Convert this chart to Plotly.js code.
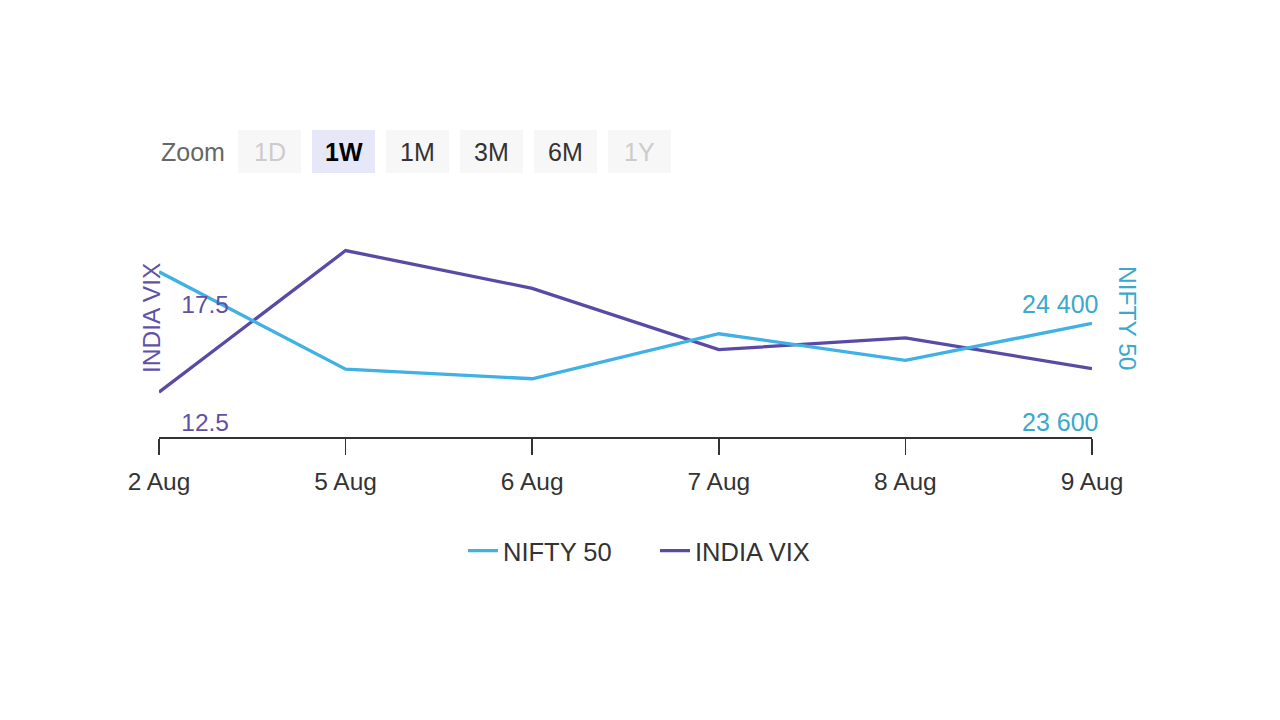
<!DOCTYPE html>
<html>
<head>
<meta charset="utf-8">
<script src="https://cdn.plot.ly/plotly-3.0.1.min.js"></script>
<style>html,body{margin:0;padding:0;background:#fff;}#chart{width:1280px;height:720px;}</style>
</head>
<body>
<div id="chart"></div>
<script>
const categories = ['2 Aug', '5 Aug', '6 Aug', '7 Aug', '8 Aug', '9 Aug'];
const nifty = [24720, 24060, 23995, 24300, 24120, 24370];
const vix = [14.4, 20.4, 18.8, 16.2, 16.7, 15.4];
const vixTicks = [12.5, 17.5];
const vixTickText = ['12.5', '17.5'];
const niftyTicks = [23600, 24400];
const niftyTickText = ['23 600', '24 400'];
const zoomButtons = ['1D', '1W', '1M', '3M', '6M', '1Y'];
const zoomState = ['disabled', 'active', 'normal', 'normal', 'normal', 'disabled'];

const FONT = 'Liberation Sans, Arial, sans-serif';
const NIFTY_COLOR = '#3fb1e5';
const VIX_COLOR = '#5a4aa6';
const NIFTY_LABEL = '#3aa9cc';
const VIX_LABEL = '#5f52a6';

// plot geometry in pixels
const L = 159, R = 1092, T = 201, B = 437;
const px2x = p => (p - L) / (R - L);
const py2y = p => (B - p) / (B - T);

const traces = [
  {x: categories, y: nifty, name: 'NIFTY 50', yaxis: 'y2', type: 'scatter', mode: 'lines',
   line: {color: NIFTY_COLOR, width: 3.3}},
  {x: categories, y: vix, name: 'INDIA VIX', yaxis: 'y', type: 'scatter', mode: 'lines',
   line: {color: VIX_COLOR, width: 3.3}}
];

const shapes = [];
const annotations = [];
zoomButtons.forEach((b, i) => {
  const x0 = 238 + i * 74, x1 = x0 + 63;
  const st = zoomState[i];
  shapes.push({type: 'rect', xref: 'paper', yref: 'paper', layer: 'below',
    x0: px2x(x0), x1: px2x(x1), y0: py2y(173), y1: py2y(130),
    fillcolor: st === 'active' ? '#e6e8f8' : '#f7f7f8', line: {width: 0}});
  annotations.push({xref: 'paper', yref: 'paper', x: px2x((x0 + x1) / 2), y: py2y(152),
    text: st === 'active' ? '<b>' + b + '</b>' : b, showarrow: false, xanchor: 'center', yanchor: 'middle',
    font: {family: FONT, size: 25, color: st === 'disabled' ? '#cccccc' : (st === 'active' ? '#000000' : '#333333')}});
});
annotations.push({xref: 'paper', yref: 'paper', x: px2x(159), y: py2y(152), text: 'Zoom',
  showarrow: false, xanchor: 'left', yanchor: 'middle', font: {family: FONT, size: 25, color: '#666666'}});
annotations.push({xref: 'paper', yref: 'paper', x: px2x(151), y: py2y(318), text: 'INDIA VIX',
  textangle: -90, showarrow: false, xanchor: 'center', yanchor: 'middle',
  font: {family: FONT, size: 24.5, color: VIX_LABEL}});
annotations.push({xref: 'paper', yref: 'paper', x: px2x(1128), y: py2y(318), text: 'NIFTY 50',
  textangle: 90, showarrow: false, xanchor: 'center', yanchor: 'middle',
  font: {family: FONT, size: 24.5, color: NIFTY_LABEL}});

const layout = {
  width: 1280, height: 720,
  paper_bgcolor: '#ffffff', plot_bgcolor: '#ffffff',
  margin: {l: L, r: 1280 - R, t: T, b: 720 - B},
  font: {family: FONT, size: 24.5, color: '#333333'},
  showlegend: true,
  legend: {orientation: 'h', xref: 'container', yref: 'container', x: 0.5 + 15 / 1280, xanchor: 'center',
    y: 1 - 551 / 720, yanchor: 'middle', font: {family: FONT, size: 25.5, color: '#333333'},
    itemwidth: 30, entrywidth: 147, bgcolor: 'rgba(0,0,0,0)'},
  xaxis: {type: 'category', range: [0, categories.length - 1], showgrid: false, zeroline: false,
    showline: true, linecolor: '#333333', linewidth: 1.5, ticks: 'outside', ticklen: 16,
    tickcolor: '#333333', tickwidth: 1.5, ticklabelstandoff: 6,
    tickfont: {family: FONT, size: 24.5, color: '#333333'}, fixedrange: true},
  yaxis: {range: [12.5, 22.5], showgrid: false, zeroline: false, showline: false, ticks: '',
    tickvals: vixTicks, ticktext: vixTickText, ticklabelposition: 'outside top',
    ticklabelstandoff: -71, ticklabelshift: 3,
    tickfont: {family: FONT, size: 24.5, color: VIX_LABEL}, fixedrange: true},
  yaxis2: {range: [23600, 25200], overlaying: 'y', side: 'right', showgrid: false, zeroline: false,
    showline: false, ticks: '', tickvals: niftyTicks, ticktext: niftyTickText,
    ticklabelposition: 'outside top', ticklabelstandoff: -71, ticklabelshift: 3,
    tickfont: {family: FONT, size: 25, color: NIFTY_LABEL}, fixedrange: true},
  shapes: shapes,
  annotations: annotations
};

Plotly.newPlot('chart', traces, layout, {displayModeBar: false, staticPlot: true});
</script>
</body>
</html>
